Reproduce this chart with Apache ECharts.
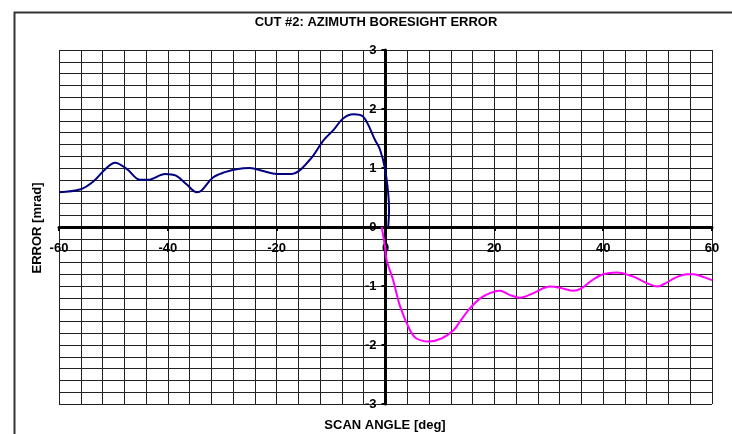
<!DOCTYPE html>
<html>
<head>
<meta charset="utf-8">
<script src="https://cdn.jsdelivr.net/npm/echarts@6/dist/echarts.min.js"></script>
<style>
  html, body { margin: 0; padding: 0; background: #fff; }
  #chart { width: 732px; height: 434px; }
</style>
</head>
<body>
<div id="chart"></div>
<script>
// azimuth error, negative scan side (blue)
const negSide = [
  [-60, 0.59], [-56, 0.64], [-53.7, 0.77], [-51.5, 0.98], [-49.7, 1.09],
  [-47.5, 0.98], [-45.1, 0.80], [-43.6, 0.80], [-40.5, 0.90], [-38.5, 0.87],
  [-36.5, 0.72], [-34.7, 0.59], [-33.8, 0.62], [-31.7, 0.84], [-29.5, 0.93],
  [-27.4, 0.98], [-24.9, 1.0], [-22.5, 0.95], [-20, 0.9], [-17.2, 0.9],
  [-13.9, 1.14], [-11.4, 1.47], [-9.5, 1.65], [-7.8, 1.84], [-5.9, 1.91],
  [-4.1, 1.87], [-1.9, 1.47], [-1.0, 1.31], [-0.1, 0.99], [0.5, 0.57],
  [0.65, 0.29], [0.5, 0]
];
// positive scan side (magenta)
const posSide = [
  [-0.7, 0], [-0.1, -0.33], [0.2, -0.56], [1.4, -0.9], [2.7, -1.35],
  [4.5, -1.75], [5.7, -1.89], [7.9, -1.94], [10.3, -1.89], [12.5, -1.75],
  [13.7, -1.6], [15.5, -1.38], [17.4, -1.21], [19.2, -1.12], [21, -1.08],
  [22.8, -1.15], [24.7, -1.2], [27.2, -1.12], [30.2, -1.01], [32.5, -1.04],
  [34.5, -1.08], [35.8, -1.05], [38, -0.9], [40, -0.8], [42.5, -0.77],
  [45.5, -0.84], [48, -0.95], [49.9, -1.01], [51.1, -0.97], [53.5, -0.85],
  [55.4, -0.8], [56.6, -0.8], [58.5, -0.85], [60, -0.9]
];
const xTicks = { min: -60, max: 60, step: 20 };
const yTicks = { min: -3, max: 3, step: 1 };

const chart = echarts.init(document.getElementById('chart'));
const font = 'Arial, "Liberation Sans", sans-serif';
const gridLine = { show: true, lineStyle: { color: '#222', width: 1 } };

// plot box in px, axes cross in the middle
const box = { left: 59, right: 20, top: 50, bottom: 30 };
const plotW = 732 - box.left - box.right;
const plotH = 434 - box.top - box.bottom;

const option = {
  animation: false,
  graphic: [
    {
      type: 'rect', left: 12, top: 10, silent: true,
      shape: { width: 760, height: 460 },
      style: { fill: 'none', stroke: '#333', lineWidth: 2 }
    },
    {
      type: 'text', x: 376, y: 22,
      style: { text: 'CUT #2: AZIMUTH BORESIGHT ERROR', font: 'bold 13px ' + font,
        fill: '#000', align: 'center', verticalAlign: 'middle' }
    },
    {
      type: 'text', x: 385, y: 425,
      style: { text: 'SCAN ANGLE [deg]', font: 'bold 13px ' + font,
        fill: '#000', align: 'center', verticalAlign: 'middle' }
    },
    {
      type: 'text', x: 37, y: 228, rotation: Math.PI / 2,
      style: { text: 'ERROR [mrad]', font: 'bold 13px ' + font,
        fill: '#000', align: 'center', verticalAlign: 'middle' }
    }
  ],
  grid: Object.assign({ show: false }, box),
  xAxis: {
    type: 'value',
    min: xTicks.min, max: xTicks.max, interval: xTicks.step,
    offset: -plotH / 2,
    axisLine: { onZero: false, lineStyle: { color: '#000', width: 3 } },
    axisTick: { show: true, length: 4, lineStyle: { color: '#000', width: 2 } },
    axisLabel: { color: '#000', fontWeight: 'bold', fontSize: 13, fontFamily: font, margin: 15 },
    splitLine: gridLine,
    minorTick: { show: false, splitNumber: 5 },
    minorSplitLine: gridLine
  },
  yAxis: {
    type: 'value',
    min: yTicks.min, max: yTicks.max, interval: yTicks.step,
    offset: -plotW / 2,
    axisLine: { onZero: false, lineStyle: { color: '#000', width: 3 } },
    axisTick: { show: true, length: 4, lineStyle: { color: '#000', width: 2 } },
    axisLabel: { color: '#000', fontWeight: 'bold', fontSize: 13, fontFamily: font, margin: 9 },
    splitLine: gridLine,
    minorTick: { show: false, splitNumber: 5 },
    minorSplitLine: gridLine
  },
  series: [
    {
      type: 'line', data: negSide, smooth: 0.35, showSymbol: false,
      lineStyle: { color: '#000080', width: 2 }, z: 5
    },
    {
      type: 'line', data: posSide, smooth: 0.35, showSymbol: false,
      lineStyle: { color: '#ff00ff', width: 2 }, z: 5
    }
  ]
};
chart.setOption(option);
</script>
</body>
</html>
